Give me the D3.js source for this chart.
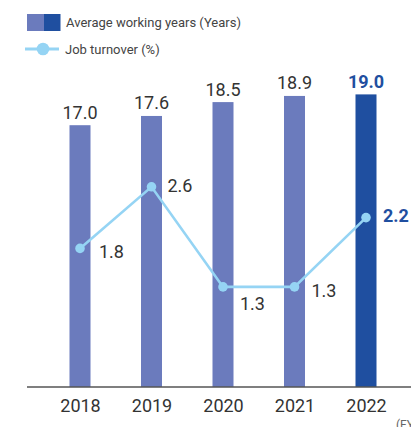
<!DOCTYPE html>
<html>
<head>
<meta charset="utf-8">
<script src="https://cdn.jsdelivr.net/npm/d3@7"></script>
<style>
  html, body { margin: 0; padding: 0; background: #fff; }
  svg { display: block; font-family: Roboto, "Liberation Sans", Arial, sans-serif; }
</style>
</head>
<body>
<svg id="chart" width="411" height="427"></svg>
<script>
// Fiscal years
const years = ["2018", "2019", "2020", "2021", "2022"];
// Average working years (Years)
const workingYears = [17.0, 17.6, 18.5, 18.9, 19.0];
// Job turnover (%)
const turnover = [1.8, 2.6, 1.3, 1.3, 2.2];
// Legend texts
const legendLabels = ["Average working years (Years)", "Job turnover (%)"];
const unitLabel = "(FY)";

const barColor = "#6b7bbd";
const latestColor = "#1f4fa0";
const lineColor = "#95d4f4";
const textColor = "#333";

const svg = d3.select("#chart");

const x = d3.scalePoint().domain(years).range([80, 366]);
const yBar = d3.scaleLinear().domain([0, 20]).range([387, 79]);
const yLine = d3.scaleLinear().domain([0, 4]).range([387, 79]);
const barW = 21;
const last = years.length - 1;

// Legend
const lg = svg.append("g");
lg.append("rect").attr("x", 27).attr("y", 14).attr("width", 17).attr("height", 17).attr("fill", barColor);
lg.append("rect").attr("x", 44).attr("y", 14).attr("width", 16.5).attr("height", 17).attr("fill", latestColor);
lg.append("text").attr("x", 66).attr("y", 27).attr("font-size", 13).attr("fill", "#444").text(legendLabels[0]);
lg.append("line").attr("x1", 25).attr("x2", 59).attr("y1", 49).attr("y2", 49)
  .attr("stroke", lineColor).attr("stroke-width", 3);
lg.append("circle").attr("cx", 43).attr("cy", 49).attr("r", 6.3).attr("fill", lineColor);
lg.append("text").attr("x", 65).attr("y", 54).attr("font-size", 13).attr("fill", "#444").text(legendLabels[1]);

// Bars
svg.append("g").selectAll("rect")
  .data(workingYears)
  .join("rect")
  .attr("x", (d, i) => x(years[i]) - barW / 2)
  .attr("y", d => yBar(d))
  .attr("width", barW)
  .attr("height", d => yBar(0) - yBar(d))
  .attr("fill", (d, i) => i === last ? latestColor : barColor);

// Bar value labels
svg.append("g").selectAll("text")
  .data(workingYears)
  .join("text")
  .attr("x", (d, i) => x(years[i]))
  .attr("y", d => yBar(d) - 6.5)
  .attr("text-anchor", "middle")
  .attr("font-size", 18)
  .attr("font-weight", (d, i) => i === last ? 700 : 400)
  .attr("fill", (d, i) => i === last ? latestColor : textColor)
  .text(d => d.toFixed(1));

// X axis
const axis = svg.append("g")
  .attr("transform", `translate(0,${yBar(0)})`)
  .call(d3.axisBottom(x).tickSize(0).tickPadding(8));
axis.select(".domain").remove();
axis.append("line").attr("x1", 27).attr("x2", 411).attr("y1", 0).attr("y2", 0)
  .attr("stroke", "#555").attr("stroke-width", 1.3);
axis.selectAll(".tick text")
  .attr("font-size", 18)
  .attr("font-family", "Roboto, 'Liberation Sans', Arial, sans-serif")
  .attr("fill", textColor)
  .attr("dy", "0.95em");

svg.append("text").attr("x", 396).attr("y", 429).attr("font-size", 12).attr("fill", "#666").text(unitLabel);

// Turnover line
const line = d3.line().x((d, i) => x(years[i])).y(d => yLine(d));
svg.append("path")
  .datum(turnover)
  .attr("d", line)
  .attr("fill", "none")
  .attr("stroke", lineColor)
  .attr("stroke-width", 2.6);

svg.append("g").selectAll("circle")
  .data(turnover)
  .join("circle")
  .attr("cx", (d, i) => x(years[i]))
  .attr("cy", d => yLine(d))
  .attr("r", 4.8)
  .attr("fill", lineColor);

// Turnover labels, placed to the right of each point
const labelShift = [[19, 9.5], [16, 5.5], [17, 23], [17, 10], [17, 4.5]];
svg.append("g").selectAll("text")
  .data(turnover)
  .join("text")
  .attr("x", (d, i) => x(years[i]) + labelShift[i][0])
  .attr("y", (d, i) => yLine(d) + labelShift[i][1])
  .attr("font-size", 18)
  .attr("font-weight", (d, i) => i === last ? 700 : 400)
  .attr("fill", (d, i) => i === last ? latestColor : textColor)
  .text(d => d.toFixed(1));
</script>
</body>
</html>
